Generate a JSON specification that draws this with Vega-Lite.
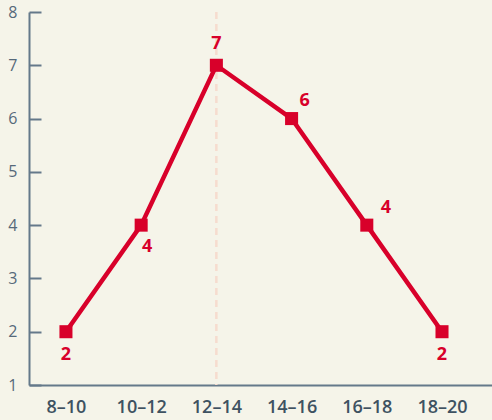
{
  "$schema": "https://vega.github.io/schema/vega-lite/v6.json",
  "width": 463,
  "height": 373,
  "autosize": {"type": "none"},
  "padding": {"left": 29, "top": 12, "right": 0, "bottom": 35},
  "background": "#f5f4e9",
  "config": {
    "view": {"stroke": null},
    "font": "Open Sans"
  },
  "data": {
    "values": [
      {"range": "8–10", "count": 2},
      {"range": "10–12", "count": 4},
      {"range": "12–14", "count": 7},
      {"range": "14–16", "count": 6},
      {"range": "16–18", "count": 4},
      {"range": "18–20", "count": 2}
    ]
  },
  "encoding": {
    "x": {
      "field": "range",
      "type": "ordinal",
      "sort": null,
      "scale": {"type": "point", "domain": ["8–10", "10–12", "12–14", "14–16", "16–18", "18–20"], "padding": 0.578, "align": 0.425},
      "axis": {
        "title": null,
        "labelAngle": 0,
        "ticks": false,
        "domainColor": "#64798a",
        "domainWidth": 2,
        "labelColor": "#3e5261",
        "labelFontSize": 18,
        "labelFontWeight": 600,
        "labelPadding": 13,
        "grid": false
      }
    },
    "y": {
      "field": "count",
      "type": "quantitative",
      "scale": {"domain": [1, 8], "nice": false, "zero": false},
      "axis": {
        "title": null,
        "values": [1, 2, 3, 4, 5, 6, 7, 8],
        "grid": false,
        "domainColor": "#64798a",
        "domainWidth": 2,
        "tickColor": "#64798a",
        "tickWidth": 2,
        "tickSize": -12,
        "labelColor": "#56697a",
        "labelFontSize": 16,
        "labelPadding": 24
      }
    }
  },
  "layer": [
    {
      "mark": {"type": "rule", "color": "#f6dccf", "strokeDash": [7, 5], "strokeWidth": 1.5},
      "encoding": {
        "x": {"datum": "12–14"},
        "y": {"datum": 8},
        "y2": {"datum": 1}
      }
    },
    {
      "mark": {"type": "line", "color": "#d8002a", "strokeWidth": 4.5}
    },
    {
      "mark": {"type": "point", "shape": "square", "filled": true, "opacity": 1, "color": "#d8002a", "size": 170}
    },
    {
      "transform": [{"filter": {"field": "range", "oneOf": ["8–10", "18–20"]}}],
      "mark": {"type": "text", "color": "#d8002a", "fontSize": 18, "fontWeight": "bold", "dy": 23, "baseline": "middle"},
      "encoding": {"text": {"field": "count"}}
    },
    {
      "transform": [{"filter": {"field": "range", "equal": "10–12"}}],
      "mark": {"type": "text", "color": "#d8002a", "fontSize": 18, "fontWeight": "bold", "dx": 6, "dy": 22, "baseline": "middle"},
      "encoding": {"text": {"field": "count"}}
    },
    {
      "transform": [{"filter": {"field": "range", "equal": "12–14"}}],
      "mark": {"type": "text", "color": "#d8002a", "fontSize": 18, "fontWeight": "bold", "dy": -21, "baseline": "middle"},
      "encoding": {"text": {"field": "count"}}
    },
    {
      "transform": [{"filter": {"field": "range", "equal": "14–16"}}],
      "mark": {"type": "text", "color": "#d8002a", "fontSize": 18, "fontWeight": "bold", "dx": 13, "dy": -18, "baseline": "middle"},
      "encoding": {"text": {"field": "count"}}
    },
    {
      "transform": [{"filter": {"field": "range", "equal": "16–18"}}],
      "mark": {"type": "text", "color": "#d8002a", "fontSize": 18, "fontWeight": "bold", "dx": 19, "dy": -17, "baseline": "middle"},
      "encoding": {"text": {"field": "count"}}
    }
  ]
}
